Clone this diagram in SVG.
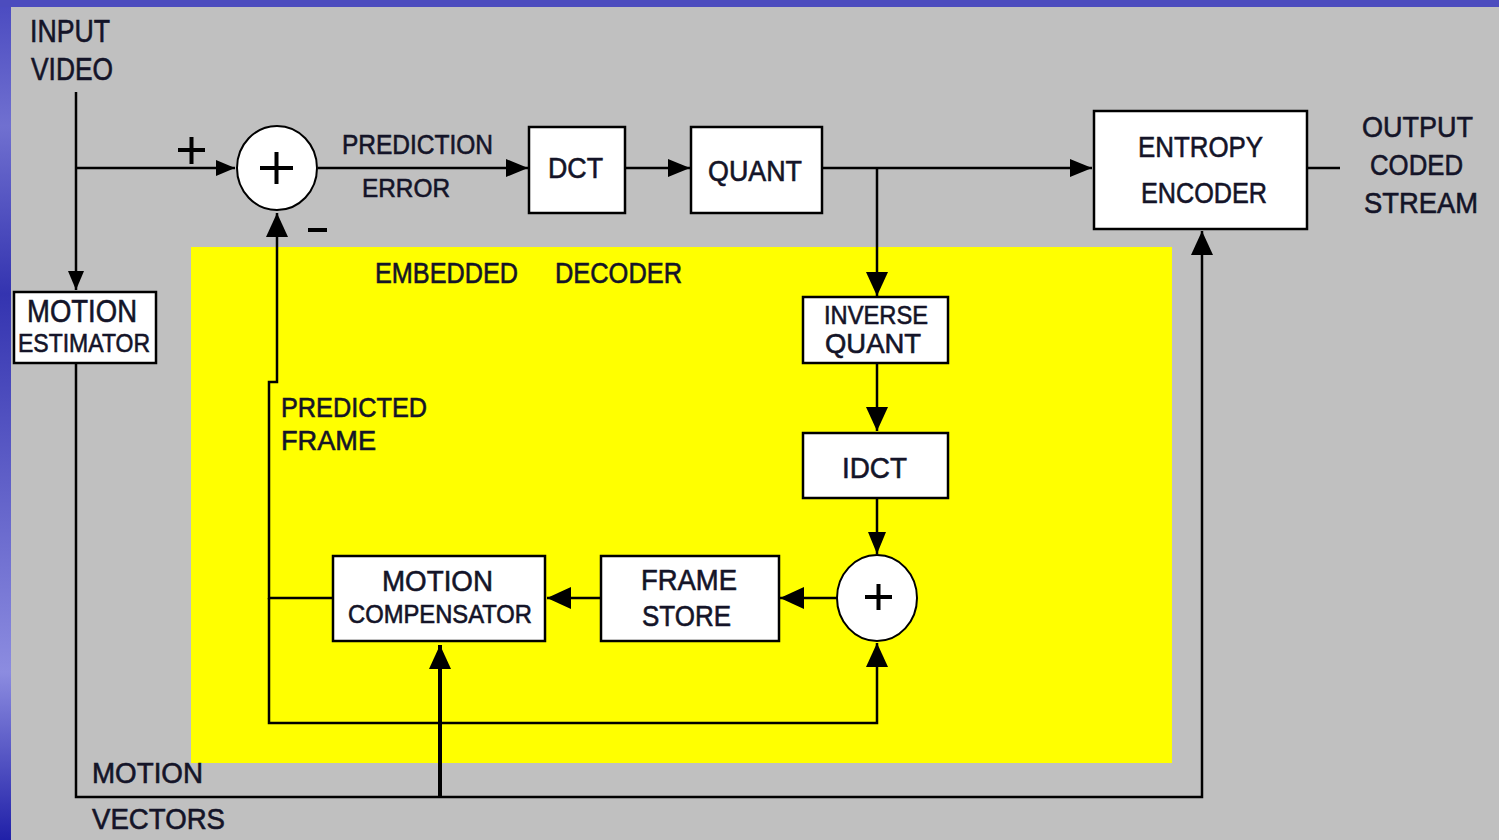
<svg xmlns="http://www.w3.org/2000/svg" width="1499" height="840" viewBox="0 0 1499 840">
<defs>
<linearGradient id="blueL" x1="0" y1="0" x2="0" y2="1">
<stop offset="0" stop-color="#4a4ac0"/>
<stop offset="0.15" stop-color="#7070d0"/>
<stop offset="0.35" stop-color="#3434b0"/>
<stop offset="0.8" stop-color="#8c8ce0"/>
<stop offset="1" stop-color="#2020a8"/>
</linearGradient>
<marker id="ah" markerWidth="22" markerHeight="18" refX="22" refY="9" orient="auto" markerUnits="userSpaceOnUse">
<path d="M0,0 L22,9 L0,18 Z" fill="#000"/>
</marker>
<marker id="ahs" markerWidth="19" markerHeight="16" refX="19" refY="8" orient="auto" markerUnits="userSpaceOnUse">
<path d="M0,0 L19,8 L0,16 Z" fill="#000"/>
</marker>
<marker id="ahl" markerWidth="24" markerHeight="22" refX="24" refY="11" orient="auto" markerUnits="userSpaceOnUse">
<path d="M0,0 L24,11 L0,22 Z" fill="#000"/>
</marker>
</defs>
<style>
.t{font-family:"Liberation Sans",Arial,sans-serif;fill:#141428;stroke:#141428;stroke-width:0.6;}
.box{fill:#fff;stroke:#000;stroke-width:2.5;}
.sum{fill:#fff;stroke:#000;stroke-width:2;}
.ln{fill:none;stroke:#000;stroke-width:2.5;}
.pl{fill:none;stroke:#000;stroke-width:4;}
</style>
<rect x="0" y="0" width="1499" height="840" fill="url(#blueL)"/>
<rect x="0" y="0" width="1499" height="7" fill="#4c4cbe"/>
<rect x="11" y="7" width="1488" height="833" fill="#c0c0c0"/>
<rect id="embedded-decoder" x="191" y="247" width="981" height="516" fill="#ffff00"/>

<g id="connectors">
<path class="ln" d="M76,92 V290" marker-end="url(#ahs)"/>
<path class="ln" d="M76,168 H235" marker-end="url(#ahs)"/>
<path class="ln" d="M318,168 H528" marker-end="url(#ah)"/>
<path class="ln" d="M625,168 H690" marker-end="url(#ah)"/>
<path class="ln" d="M822,168 H1092" marker-end="url(#ah)"/>
<path class="ln" d="M877,168 V296" marker-end="url(#ahl)"/>
<path class="ln" d="M1307,168 H1340"/>
<path class="ln" d="M877,363 V431" marker-end="url(#ahl)"/>
<path class="ln" d="M877,498 V554" marker-end="url(#ah)"/>
<path class="ln" d="M837,598 H780" marker-end="url(#ahl)"/>
<path class="ln" d="M601,598 H547" marker-end="url(#ahl)"/>
<path class="ln" d="M333,598 H269 V382 H277 V213" marker-end="url(#ahl)"/>
<path class="ln" d="M269,598 V723 H877 V643" marker-end="url(#ahl)"/>
<path class="ln" d="M76,363 V797 H1202 V231" marker-end="url(#ahl)"/>
<path fill="none" stroke="#000" stroke-width="4" d="M440,797 V645" marker-end="url(#ahl)"/>
</g>

<g id="input-video">
<text class="t" x="30" y="42" font-size="31" textLength="80" lengthAdjust="spacingAndGlyphs">INPUT</text>
<text class="t" x="31" y="80" font-size="31" textLength="82" lengthAdjust="spacingAndGlyphs">VIDEO</text>
</g>
<g id="plus-sign">
<path class="pl" d="M178,150 H205 M191.5,137 V164"/>
</g>
<g id="summer1">
<ellipse class="sum" cx="277" cy="168" rx="40" ry="42"/>
<path class="pl" d="M260,168 H293 M276.5,152 V184"/>
</g>
<g id="minus-sign">
<path class="pl" d="M308,230 H327"/>
</g>
<g id="prediction-error">
<text class="t" x="342" y="154" font-size="27" textLength="151" lengthAdjust="spacingAndGlyphs">PREDICTION</text>
<text class="t" x="362" y="197" font-size="26" textLength="88" lengthAdjust="spacingAndGlyphs">ERROR</text>
</g>
<g id="dct">
<rect class="box" x="529" y="127" width="96" height="86"/>
<text class="t" x="548" y="178" font-size="29" textLength="55" lengthAdjust="spacingAndGlyphs">DCT</text>
</g>
<g id="quant">
<rect class="box" x="691" y="127" width="131" height="86"/>
<text class="t" x="708" y="181" font-size="29" textLength="94" lengthAdjust="spacingAndGlyphs">QUANT</text>
</g>
<g id="entropy-encoder">
<rect class="box" x="1094" y="111" width="213" height="118"/>
<text class="t" x="1138" y="157" font-size="30" textLength="125" lengthAdjust="spacingAndGlyphs">ENTROPY</text>
<text class="t" x="1141" y="203" font-size="30" textLength="126" lengthAdjust="spacingAndGlyphs">ENCODER</text>
</g>
<g id="output-coded-stream">
<text class="t" x="1362" y="137" font-size="30" textLength="111" lengthAdjust="spacingAndGlyphs">OUTPUT</text>
<text class="t" x="1370" y="175" font-size="30" textLength="93" lengthAdjust="spacingAndGlyphs">CODED</text>
<text class="t" x="1364" y="213" font-size="30" textLength="114" lengthAdjust="spacingAndGlyphs">STREAM</text>
</g>
<g id="motion-estimator">
<rect class="box" x="14" y="292" width="142" height="71"/>
<text class="t" x="27" y="322" font-size="32" textLength="110" lengthAdjust="spacingAndGlyphs">MOTION</text>
<text class="t" x="18" y="352" font-size="26" textLength="132" lengthAdjust="spacingAndGlyphs">ESTIMATOR</text>
</g>
<g id="embedded-decoder-label">
<text class="t" x="375" y="283" font-size="29" textLength="143" lengthAdjust="spacingAndGlyphs">EMBEDDED</text>
<text class="t" x="555" y="283" font-size="29" textLength="127" lengthAdjust="spacingAndGlyphs">DECODER</text>
</g>
<g id="inverse-quant">
<rect class="box" x="803" y="297" width="145" height="66"/>
<text class="t" x="824" y="324" font-size="26" textLength="104" lengthAdjust="spacingAndGlyphs">INVERSE</text>
<text class="t" x="825" y="353" font-size="28" textLength="96" lengthAdjust="spacingAndGlyphs">QUANT</text>
</g>
<g id="idct">
<rect class="box" x="803" y="433" width="145" height="65"/>
<text class="t" x="842" y="478" font-size="30" textLength="65" lengthAdjust="spacingAndGlyphs">IDCT</text>
</g>
<g id="predicted-frame">
<text class="t" x="281" y="417" font-size="28" textLength="146" lengthAdjust="spacingAndGlyphs">PREDICTED</text>
<text class="t" x="281" y="450" font-size="28" textLength="95" lengthAdjust="spacingAndGlyphs">FRAME</text>
</g>
<g id="motion-compensator">
<rect class="box" x="333" y="556" width="212" height="85"/>
<text class="t" x="382" y="591" font-size="30" textLength="111" lengthAdjust="spacingAndGlyphs">MOTION</text>
<text class="t" x="348" y="623" font-size="25" textLength="184" lengthAdjust="spacingAndGlyphs">COMPENSATOR</text>
</g>
<g id="frame-store">
<rect class="box" x="601" y="556" width="178" height="85"/>
<text class="t" x="641" y="590" font-size="29" textLength="96" lengthAdjust="spacingAndGlyphs">FRAME</text>
<text class="t" x="642" y="626" font-size="29" textLength="89" lengthAdjust="spacingAndGlyphs">STORE</text>
</g>
<g id="summer2">
<ellipse class="sum" cx="877" cy="598" rx="40" ry="43"/>
<path class="pl" d="M865,597 H892 M878.5,584 V610"/>
</g>
<g id="motion-vectors">
<text class="t" x="92" y="783" font-size="29" textLength="111" lengthAdjust="spacingAndGlyphs">MOTION</text>
<text class="t" x="92" y="829" font-size="29" textLength="133" lengthAdjust="spacingAndGlyphs">VECTORS</text>
</g>
</svg>
